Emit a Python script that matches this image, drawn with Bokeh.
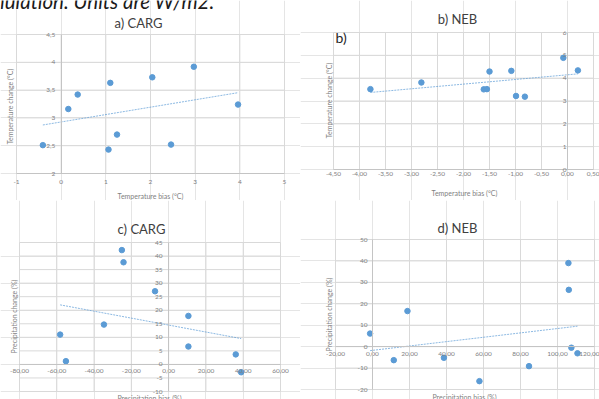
import math
from bokeh.plotting import figure
from bokeh.layouts import column, row
from bokeh.models import Label, LinearAxis, FixedTicker
from bokeh.embed import file_html
from bokeh.resources import INLINE
import numpy as np

# ---------------- data ----------------
# a) CARG : temperature bias vs temperature change
a_bias = [-0.41, 0.16, 0.37, 1.10, 1.06, 1.25, 2.04, 2.46, 2.97, 3.96]
a_change = [2.51, 3.16, 3.42, 3.63, 2.43, 2.70, 3.73, 2.52, 3.92, 3.24]
a_xticks = [-1, 0, 1, 2, 3, 4, 5]
a_xlabels = ["-1", "0", "1", "2", "3", "4", "5"]
a_yticks = [2, 2.5, 3, 3.5, 4, 4.5]
a_ylabels = ["2", "2,5", "3", "3,5", "4", "4,5"]

# b) NEB : temperature bias vs temperature change
b_bias = [-3.79, -2.81, -1.61, -1.55, -1.50, -1.08, -0.99, -0.82, -0.08, 0.20]
b_change = [3.52, 3.81, 3.51, 3.52, 4.29, 4.32, 3.22, 3.19, 4.89, 4.34]
b_xticks = [-4.5, -4.0, -3.5, -3.0, -2.5, -2.0, -1.5, -1.0, -0.5, 0.0, 0.5]
b_xlabels = ["-4,50", "-4,00", "-3,50", "-3,00", "-2,50", "-2,00", "-1,50",
             "-1,00", "-0,50", "0,00", "0,50"]
b_yticks = [0, 1, 2, 3, 4, 5, 6]
b_ylabels = ["0", "1", "2", "3", "4", "5", "6"]

# c) CARG : precipitation bias vs precipitation change
c_bias = [-58.2, -55.1, -34.7, -25.1, -24.2, -7.3, 10.6, 10.6, 36.0, 38.9]
c_change = [11.0, 1.2, 14.7, 42.2, 37.7, 27.0, 17.9, 6.6, 3.7, -2.9]
c_xticks = [-80, -60, -40, -20, 0, 20, 40, 60]
c_xlabels = ["-80,00", "-60,00", "-40,00", "-20,00", "0,00", "20,00", "40,00", "60,00"]
c_yticks = [-10, -5, 0, 5, 10, 15, 20, 25, 30, 35, 40, 45]
c_ylabels = ["-10", "-5", "0", "5", "10", "15", "20", "25", "30", "35", "40", "45"]

# d) NEB : precipitation bias vs precipitation change
d_bias = [-1.3, 11.5, 18.9, 38.6, 57.8, 84.6, 105.9, 106.1, 107.5, 110.8]
d_change = [6.1, -6.3, 16.6, -5.2, -16.1, -9.1, 39.0, 26.5, -0.5, -3.1]
d_xticks = [-20, 0, 20, 40, 60, 80, 100, 120]
d_xlabels = ["-20,00", "0,00", "20,00", "40,00", "60,00", "80,00", "100,00", "120,00"]
d_yticks = [-20, -10, 0, 10, 20, 30, 40, 50]
d_ylabels = ["-20", "-10", "0", "10", "20", "30", "40", "50"]

caption_text = "simulation. Units are W/m2."

FONT = "Lato"
POINT = "#5B9BD5"
GRID = "#D9D9D9"
AXIS = "#C4C4C4"
TICK_COLOR = "#7F7F7F"
TITLE_COLOR = "#404040"


def add_label(p, x, y, text, size, color, angle=0.0, align="center",
              baseline="middle", style="normal"):
    p.add_layout(Label(x=x, y=y, x_units="canvas", y_units="canvas", text=text,
                       angle=angle, text_align=align, text_baseline=baseline,
                       text_font=FONT, text_font_size=size, text_color=color,
                       text_font_style=style))


def panel(w, h, box, xt, xl, yt, yl, xfix, yfix, xstand, ystand, xs, ys,
          title, tpos, xtitle, xtpos, ytitle, ytpos):
    # box: pixel rectangle (left, right, top, bottom) of the plot area
    L, R, T, B = box
    x0, x1 = xt[0], xt[-1]
    y0, y1 = yt[0], yt[-1]
    kx = (R - L) / (x1 - x0)
    ky = (B - T) / (y1 - y0)
    xr = (x0 - L / kx, x1 + (w - R) / kx)
    yr = (y0 - (h - B) / ky, y1 + T / ky)

    p = figure(width=w, height=h, x_range=xr, y_range=yr,
               x_axis_location=None, y_axis_location=None,
               output_backend="svg", toolbar_location=None)
    p.min_border = 0
    p.min_border_left = 0
    p.min_border_right = 0
    p.min_border_top = 0
    p.min_border_bottom = 0
    p.outline_line_color = None
    p.background_fill_color = "white"
    p.border_fill_color = "white"
    p.title.visible = False

    # gridlines (Excel style) limited to the plot area
    p.segment(x0=xt, y0=[y0] * len(xt), x1=xt, y1=[y1] * len(xt),
              line_color=GRID, line_width=1)
    p.segment(x0=[x0] * len(yt), y0=yt, x1=[x1] * len(yt), y1=yt,
              line_color=GRID, line_width=1)

    xa = LinearAxis(ticker=FixedTicker(ticks=xt), fixed_location=xfix,
                    bounds=(x0, x1))
    xa.major_label_overrides = dict(zip(xt, xl))
    xa.major_label_standoff = xstand
    ya = LinearAxis(ticker=FixedTicker(ticks=yt), fixed_location=yfix,
                    bounds=(y0, y1))
    ya.major_label_overrides = dict(zip(yt, yl))
    ya.major_label_standoff = ystand
    for ax in (xa, ya):
        ax.major_tick_line_color = None
        ax.minor_tick_line_color = None
        ax.major_tick_out = 0
        ax.major_tick_in = 0
        ax.minor_tick_out = 0
        ax.minor_tick_in = 0
        ax.axis_line_color = AXIS
        ax.major_label_text_font = FONT
        ax.major_label_text_font_size = "6.5px"
        ax.major_label_text_color = TICK_COLOR
    p.add_layout(xa, "below")
    p.add_layout(ya, "left")

    xs_a = np.array(xs, dtype=float)
    ys_a = np.array(ys, dtype=float)
    m, c = np.polyfit(xs_a, ys_a, 1)
    tx = np.array([xs_a.min(), xs_a.max()])
    p.line(tx, m * tx + c, line_color=POINT, line_alpha=0.7, line_width=1,
           line_dash="2 1")
    p.scatter(xs, ys, size=5.5, fill_color=POINT, line_color=POINT)

    add_label(p, tpos[0], tpos[1], title, "13px", TITLE_COLOR)
    add_label(p, xtpos[0], xtpos[1], xtitle, "7px", TICK_COLOR)
    add_label(p, ytpos[0], ytpos[1], ytitle, "7px", TICK_COLOR, angle=math.pi / 2)
    return p


pa = panel(300, 200, (16, 284, 34, 173),
           a_xticks, a_xlabels, a_yticks, a_ylabels, 2, 0, 6, 6,
           a_bias, a_change, "a) CARG", (138, 22),
           "Temperature bias (°C)", (150, 195),
           "Temperature change (°C)", (9, 106))
add_label(pa, 214, 0, caption_text, "20.5px", "#1a1a1a", align="right",
          baseline="middle", style="italic")

pb = panel(299, 200, (33, 293, 32, 169),
           b_xticks, b_xlabels, b_yticks, b_ylabels, 0, 0, 2, 1,
           b_bias, b_change, "b) NEB", (157, 18),
           "Temperature bias (°C)", (164, 192),
           "Temperature change (°C)", (28, 100))
add_label(pb, 35, 37, "b)", "14px", "#262626", align="left")

pc = panel(300, 199, (19, 280, 42, 191),
           c_xticks, c_xlabels, c_yticks, c_ylabels, 0, 0, 5, 6,
           c_bias, c_change, "c) CARG", (141, 28),
           "Precipitation bias (%)", (149, 197),
           "Precipitation change (%)", (13, 116))

pd_ = panel(299, 199, (35, 294, 39, 189),
            d_xticks, d_xlabels, d_yticks, d_ylabels, 0, 0, 5, 5,
            d_bias, d_change, "d) NEB", (157, 27),
            "Precipitation bias (%)", (164, 196),
            "Precipitation change (%)", (28, 114))

layout = column(row(pa, pb), row(pc, pd_))
open("out.html", "w").write(file_html(layout, INLINE))
